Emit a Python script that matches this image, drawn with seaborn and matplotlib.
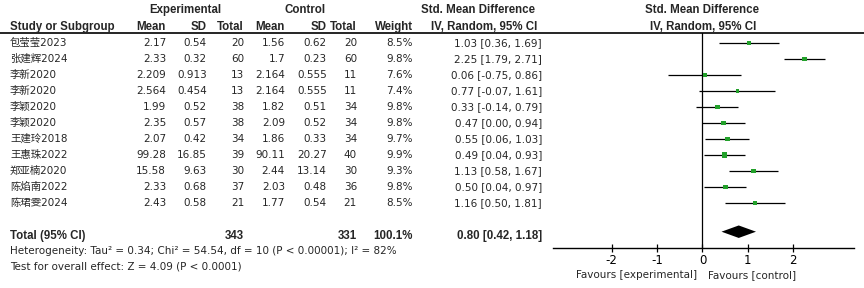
import numpy as np
import matplotlib
matplotlib.use("Agg")
import matplotlib.pyplot as plt
import seaborn as sns

# dados do forest plot
studies = ["包莹莹2023", "张建辉2024", "李新2020", "李新2020", "李颖2020", "李颖2020",
           "王建玲2018", "王惠珠2022", "郑亚楠2020", "陈焰南2022", "陈珺雯2024"]
exp_mean = [2.17, 2.33, 2.209, 2.564, 1.99, 2.35, 2.07, 99.28, 15.58, 2.33, 2.43]
exp_sd = [0.54, 0.32, 0.913, 0.454, 0.52, 0.57, 0.42, 16.85, 9.63, 0.68, 0.58]
exp_n = [20, 60, 13, 13, 38, 38, 34, 39, 30, 37, 21]
ctrl_mean = [1.56, 1.7, 2.164, 2.164, 1.82, 2.09, 1.86, 90.11, 2.44, 2.03, 1.77]
ctrl_sd = [0.62, 0.23, 0.555, 0.555, 0.51, 0.52, 0.33, 20.27, 13.14, 0.48, 0.54]
ctrl_n = [20, 60, 11, 11, 34, 34, 34, 40, 30, 36, 21]
weight = [8.5, 9.8, 7.6, 7.4, 9.8, 9.8, 9.7, 9.9, 9.3, 9.8, 8.5]
smd = [1.03, 2.25, 0.06, 0.77, 0.33, 0.47, 0.55, 0.49, 1.13, 0.50, 1.16]
ci_lo = [0.36, 1.79, -0.75, -0.07, -0.14, 0.00, 0.06, 0.04, 0.58, 0.04, 0.50]
ci_hi = [1.69, 2.71, 0.86, 1.61, 0.79, 0.94, 1.03, 0.93, 1.67, 0.97, 1.81]
total_exp, total_ctrl = 343, 331
pooled = (0.80, 0.42, 1.18)
x_ticks = [-2, -1, 0, 1, 2]

sns.set_style("white")
plt.rcParams['font.family'] = ['DejaVu Sans', 'Noto Sans CJK SC']
FS = 7.5        # texto normal
FB = 8.3        # negrito
BOLD = dict(family=['Liberation Sans', 'Noto Sans CJK SC'], fontweight='bold', fontsize=FB)
GREEN = '#22a02a'

fig = plt.figure(figsize=(8.64, 2.88), dpi=100)

# eixo de fundo em pixels, só para os textos
bg = fig.add_axes([0, 0, 1, 1])
bg.set_xlim(0, 864)
bg.set_ylim(288, 0)
bg.axis('off')

row_y = lambda i: 43 + 16 * i

# cabeçalhos
bg.text(185, 10, "Experimental", ha='center', va='center', **BOLD)
bg.text(305, 10, "Control", ha='center', va='center', **BOLD)
bg.text(478, 10, "Std. Mean Difference", ha='center', va='center', **BOLD)
bg.text(484, 27, "IV, Random, 95% CI", ha='center', va='center', **BOLD)
bg.text(702, 10, "Std. Mean Difference", ha='center', va='center', **BOLD)
bg.text(703, 27, "IV, Random, 95% CI", ha='center', va='center', **BOLD)
bg.text(10, 27, "Study or Subgroup", ha='left', va='center', **BOLD)
col_x = [166, 207, 244, 285, 327, 357, 413]
for x, h in zip(col_x, ["Mean", "SD", "Total", "Mean", "SD", "Total", "Weight"]):
    bg.text(x, 27, h, ha='right', va='center', **BOLD)
bg.plot([0, 864], [32.7, 32.7], color='black', lw=1.2)

# linhas dos estudos
for i, name in enumerate(studies):
    y = row_y(i)
    bg.text(10, y, name, ha='left', va='center', fontsize=FS)
    vals = [f"{exp_mean[i]:g}", f"{exp_sd[i]:g}", f"{exp_n[i]}",
            f"{ctrl_mean[i]:g}", f"{ctrl_sd[i]:g}", f"{ctrl_n[i]}", f"{weight[i]:.1f}%"]
    for x, v in zip(col_x, vals):
        bg.text(x, y, v, ha='right', va='center', fontsize=FS)
    bg.text(542, y, f"{smd[i]:.2f} [{ci_lo[i]:.2f}, {ci_hi[i]:.2f}]", ha='right', va='center', fontsize=FS)

# total
ty = 235.7
bg.text(10, ty, "Total (95% CI)", ha='left', va='center', **BOLD)
bg.text(244, ty, f"{total_exp}", ha='right', va='center', **BOLD)
bg.text(357, ty, f"{total_ctrl}", ha='right', va='center', **BOLD)
bg.text(413, ty, f"{sum(weight):.1f}%", ha='right', va='center', **BOLD)
bg.text(542, ty, f"{pooled[0]:.2f} [{pooled[1]:.2f}, {pooled[2]:.2f}]", ha='right', va='center', **BOLD)
bg.text(10, 251, "Heterogeneity: Tau² = 0.34; Chi² = 54.54, df = 10 (P < 0.00001); I² = 82%",
        ha='left', va='center', fontsize=FS)
bg.text(10, 266.7, "Test for overall effect: Z = 4.09 (P < 0.0001)", ha='left', va='center', fontsize=FS)
bg.text(697, 275, "Favours [experimental]", ha='right', va='center', fontsize=FS)
bg.text(708, 275, "Favours [control]", ha='left', va='center', fontsize=FS)

# forest plot
top, bot = 32.7, 248.3
ax = fig.add_axes([552.7 / 864, (288 - bot) / 288, (854 - 552.7) / 864, (bot - top) / 288])
ax.set_xlim(-3.3, 3.34)
ax.set_ylim((bot - 43) / 16, (top - 43) / 16)
ax.patch.set_alpha(0)
for s in ['top', 'left', 'right']:
    ax.spines[s].set_visible(False)
ax.spines['bottom'].set_linewidth(1.0)
ax.spines['bottom'].set_color('black')
ax.axvline(0, color='black', lw=0.9)

rows = np.arange(len(studies))
ax.hlines(rows, ci_lo, ci_hi, color='black', lw=0.9)
sns.scatterplot(x=smd, y=rows, size=weight, sizes=(6, 13), size_norm=(7.4, 9.9),
                marker='s', color=GREEN, linewidth=0, legend=False, ax=ax, zorder=3)

dy = (231.7 - 43) / 16
hh = 0.39
ax.fill([pooled[1], pooled[0], pooled[2], pooled[0]], [dy, dy - hh, dy, dy + hh],
        color='black', lw=0)

ax.set_xticks(x_ticks)
ax.set_xticklabels([str(t) for t in x_ticks])
ax.tick_params(axis='x', direction='inout', length=6, width=0.9, labelsize=8.5,
               pad=1, colors='black', bottom=True)
ax.set_yticks([])
ax.set_xlabel("")
ax.set_ylabel("")

fig.savefig("out.png", dpi=100)
